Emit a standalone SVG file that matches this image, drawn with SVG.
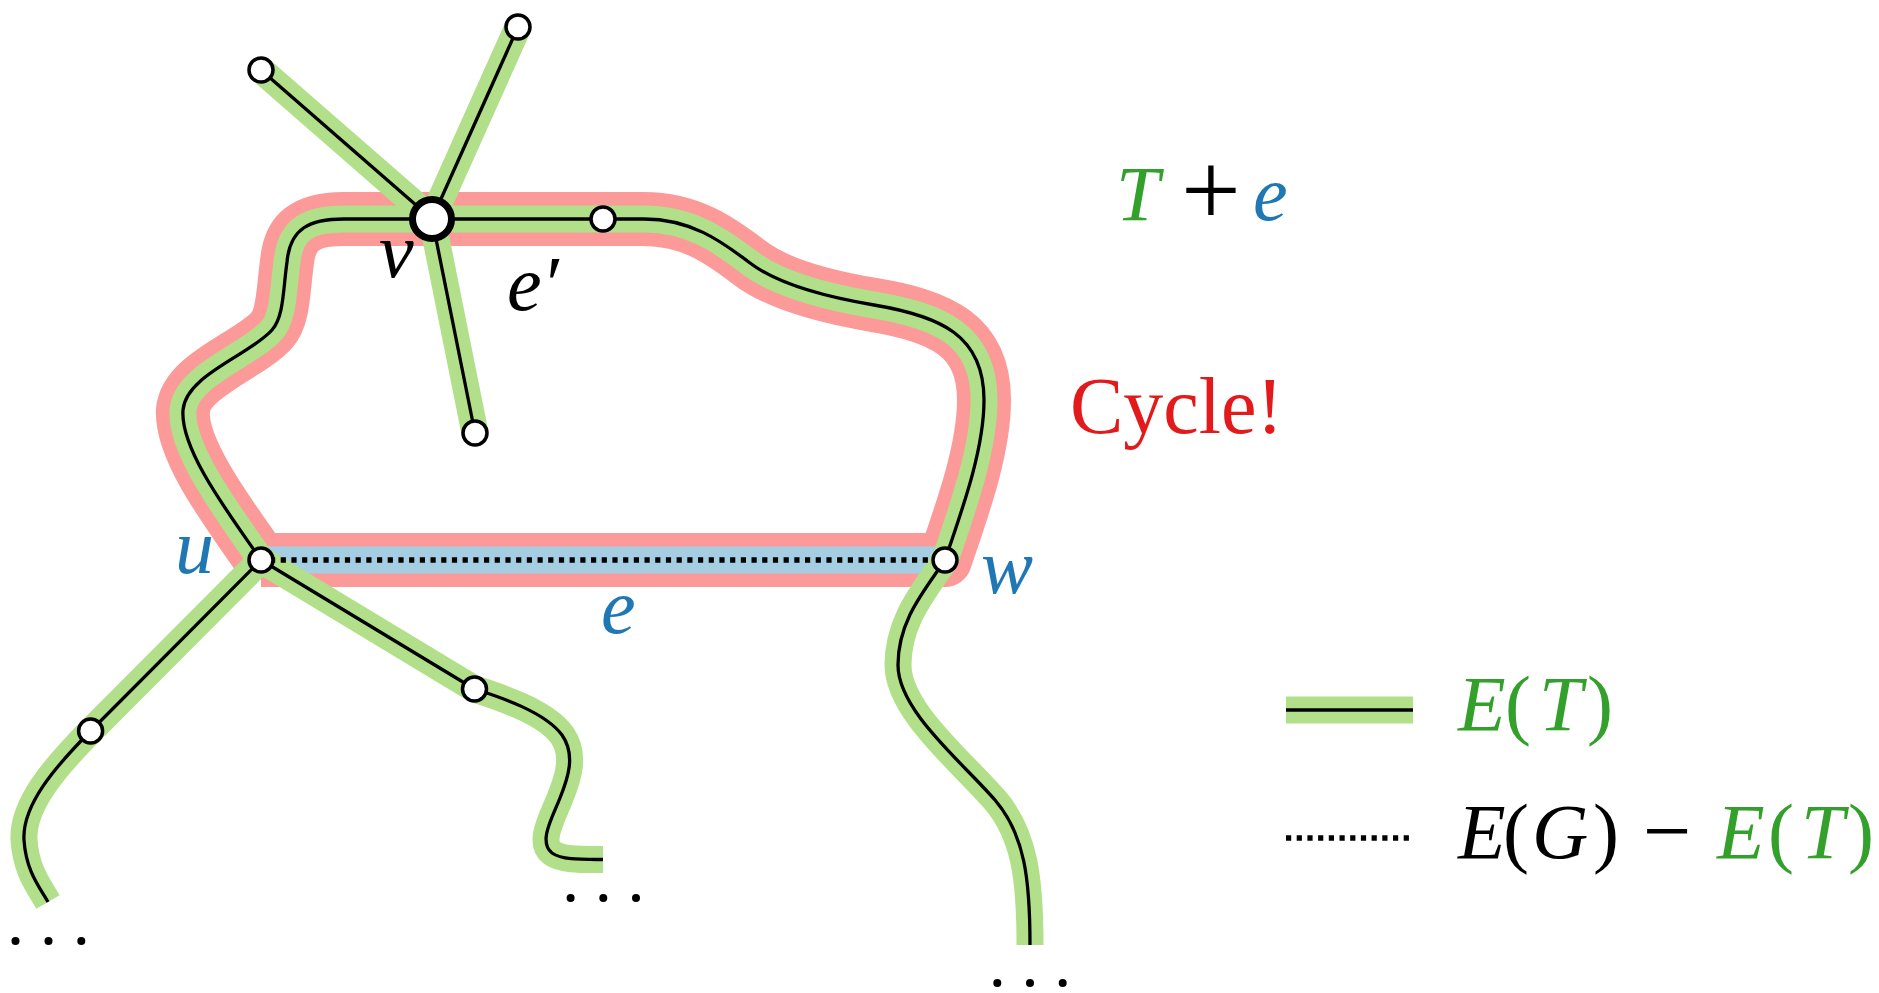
<svg xmlns="http://www.w3.org/2000/svg" width="1879" height="993" viewBox="0 0 1879 993">
<style>
.red{fill:none;stroke:#fb9a99;stroke-width:54;stroke-linejoin:round;stroke-linecap:butt}
.blue{fill:none;stroke:#a6cee3;stroke-width:27;stroke-linecap:butt}
.grn{fill:none;stroke:#b2df8a;stroke-width:27;stroke-linejoin:round;stroke-linecap:butt}
.blk{fill:none;stroke:#000;stroke-width:3.3;stroke-linejoin:round;stroke-linecap:butt}
.dot{fill:none;stroke:#000;stroke-width:5.4;stroke-dasharray:5.2 5.5}
.n{fill:#fff;stroke:#000;stroke-width:3.5}
.big{fill:#fff;stroke:#000;stroke-width:7}
.el{fill:#000}
.m{font-family:"Liberation Serif","DejaVu Serif",serif;font-style:italic;font-size:78px}
.r{font-family:"Liberation Serif","DejaVu Serif",serif;font-size:78px}
.g{fill:#33a02c}.b{fill:#1f78b4}.k{fill:#000}.rd{fill:#e31a1c}
</style>
<defs>
<path id="cyc" d="M 261 560 C 230 515 180 450 183 410 C 186 375 250 355 272 330 C 284 316 283 290 287 262 C 290 228 310 219 344 219 L 644 219 C 690 219 720 240 750 263 C 775 282 820 296 874 305 C 940 316 984 335 984 400 C 984 450 962 510 945 560"/>
<path id="b1" d="M 432 219 L 261 70"/>
<path id="b2" d="M 432 219 L 518 27"/>
<path id="b3" d="M 432 219 L 475 433"/>
<path id="b4" d="M 261 560 L 90.6 731 C 55 767 22 805 24 840 C 26 870 38 885 48 902"/>
<path id="b5" d="M 261 560 L 474.5 689 C 500 697 545 712 562 735 C 576 755 568 778 560 798 C 552 818 538 842 552 853 C 562 860 580 859.5 603 859.5"/>
<path id="b6" d="M 945 560 C 925 590 898 620 898 665 C 898 710 960 760 995 800 C 1025 835 1030 880 1030 945"/>
</defs>
<g id="connectors">
<path class="red" d="M 261 560 C 230 515 180 450 183 410 C 186 375 250 355 272 330 C 284 316 283 290 287 262 C 290 228 310 219 344 219 L 644 219 C 690 219 720 240 750 263 C 775 282 820 296 874 305 C 940 316 984 335 984 400 C 984 450 962 510 945 560 L 261 560"/>
<line class="blue" x1="261" y1="560" x2="945" y2="560"/>
<use href="#cyc" class="grn"/>
<use href="#b1" class="grn"/>
<use href="#b2" class="grn"/>
<use href="#b3" class="grn"/>
<use href="#b4" class="grn"/>
<use href="#b5" class="grn"/>
<use href="#b6" class="grn"/>
<use href="#cyc" class="blk"/>
<use href="#b1" class="blk"/>
<use href="#b2" class="blk"/>
<use href="#b3" class="blk"/>
<use href="#b4" class="blk"/>
<use href="#b5" class="blk"/>
<use href="#b6" class="blk"/>
<line class="dot" x1="270" y1="560" x2="940" y2="560"/>
</g>
<g id="node-v"><circle class="big" cx="432" cy="219" r="19.5"/><text class="m k" x="379" y="277">v</text></g>
<g id="node-u"><circle class="n" cx="261" cy="560" r="12"/><text class="m b" x="175" y="573">u</text></g>
<g id="node-w"><circle class="n" cx="945" cy="560" r="12"/><text class="m b" x="981" y="593">w</text></g>
<g id="node-a"><circle class="n" cx="261" cy="70" r="12"/></g>
<g id="node-b"><circle class="n" cx="518" cy="27" r="12"/></g>
<g id="node-c"><circle class="n" cx="603" cy="219" r="12"/></g>
<g id="node-d"><circle class="n" cx="475" cy="433" r="12"/></g>
<g id="node-f"><circle class="n" cx="90.6" cy="731" r="12"/></g>
<g id="node-h"><circle class="n" cx="474.5" cy="689" r="12"/></g>
<g id="ellipses">
<circle class="el" cx="15.5" cy="941" r="4"/><circle class="el" cx="48.5" cy="941" r="4"/><circle class="el" cx="81.3" cy="941" r="4"/>
<circle class="el" cx="570.6" cy="898" r="4"/><circle class="el" cx="603.3" cy="898" r="4"/><circle class="el" cx="636" cy="898" r="4"/>
<circle class="el" cx="997.3" cy="983" r="4"/><circle class="el" cx="1030" cy="983" r="4"/><circle class="el" cx="1062.7" cy="983" r="4"/>
</g>
<g id="labels">
<text class="m k" x="507" y="310">e′</text>
<text class="m b" x="601" y="633">e</text>
<text x="1116" y="220"><tspan class="m g">T</tspan><tspan class="r k" x="1181" y="226" style="font-size:106px">+</tspan><tspan class="m b" x="1253" y="220">e</tspan></text>
<text class="r rd" x="1070" y="433" style="font-size:80px">Cycle!</text>
</g>
<g id="legend">
<line x1="1286" y1="710" x2="1413" y2="710" stroke="#b2df8a" stroke-width="27"/>
<line x1="1286" y1="710" x2="1413" y2="710" stroke="#000" stroke-width="3.3"/>
<line class="dot" x1="1286" y1="838" x2="1410" y2="838"/>
<text y="730"><tspan class="m g" x="1458">E</tspan><tspan class="r g" x="1505">(</tspan><tspan class="m g" x="1539">T</tspan><tspan class="r g" x="1587">)</tspan></text>
<text y="858"><tspan class="m k" x="1458">E</tspan><tspan class="r k" x="1503">(</tspan><tspan class="m k" x="1532">G</tspan><tspan class="r k" x="1593">)</tspan><tspan class="r k" x="1643" y="860" style="font-size:86px">−</tspan><tspan class="m g" x="1717" y="858">E</tspan><tspan class="r g" x="1768">(</tspan><tspan class="m g" x="1801">T</tspan><tspan class="r g" x="1848">)</tspan></text>
</g>
</svg>
